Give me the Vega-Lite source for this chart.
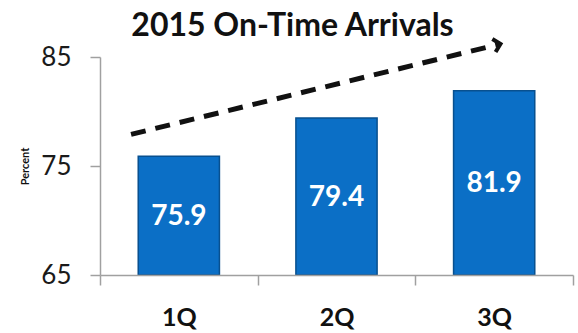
{
  "$schema": "https://vega.github.io/schema/vega-lite/v6.json",
  "autosize": "none",
  "width": 473,
  "height": 218,
  "padding": {"left": 100, "top": 57, "right": 5, "bottom": 58},
  "background": "white",
  "config": {
    "font": "Lato",
    "view": {"stroke": null}
  },
  "title": {
    "text": "2015 On-Time Arrivals",
    "font": "Lato",
    "fontSize": 32,
    "fontWeight": "bold",
    "color": "#111111",
    "anchor": "middle",
    "frame": "group",
    "dx": -44,
    "dy": 12,
    "offset": 0
  },
  "datasets": {
    "quarters": [
      {"quarter": "1Q", "pct": 75.9},
      {"quarter": "2Q", "pct": 79.4},
      {"quarter": "3Q", "pct": 81.9}
    ],
    "trend": [
      {"pos": 0.197, "pct": 77.9},
      {"pos": 2.54, "pct": 86.2}
    ]
  },
  "resolve": {"scale": {"x": "independent"}},
  "layer": [
    {
      "data": {"name": "quarters"},
      "layer": [
        {
          "mark": {
            "type": "bar",
            "width": {"band": 0.515},
            "fill": "#0b6fc6",
            "stroke": "#08508f",
            "strokeWidth": 1.5
          },
          "encoding": {
            "x": {
              "field": "quarter",
              "type": "nominal",
              "sort": null,
              "scale": {"paddingInner": 0, "paddingOuter": 0},
              "axis": {
                "title": null,
                "labelAngle": 0,
                "labelFont": "Lato",
                "labelFontSize": 25,
                "labelFontWeight": "bold",
                "labelColor": "#111111",
                "labelPadding": 20,
                "tickBand": "extent",
                "tickSize": 10,
                "tickColor": "#a0a0a0",
                "domainColor": "#a0a0a0",
                "tickWidth": 1.5,
                "domainWidth": 1.5,
                "zindex": 1
              }
            },
            "y": {
              "field": "pct",
              "type": "quantitative",
              "scale": {"domain": [65, 85], "nice": false, "zero": false},
              "axis": {
                "title": "Percent",
                "titleFont": "Lato",
                "titleFontSize": 11,
                "titleFontWeight": "bold",
                "titleColor": "#111111",
                "titlePadding": 10,
                "values": [65, 75, 85],
                "grid": false,
                "labelFont": "Lato",
                "labelFontSize": 26,
                "labelColor": "#1a1a1a",
                "labelPadding": 19,
                "tickSize": 10,
                "tickColor": "#a0a0a0",
                "domainColor": "#a0a0a0",
                "tickWidth": 1.5,
                "domainWidth": 1.5
              }
            },
            "y2": {"datum": 65}
          }
        },
        {
          "transform": [{"calculate": "(datum.pct + 65) / 2", "as": "mid"}],
          "mark": {
            "type": "text",
            "font": "Lato",
            "fontSize": 28,
            "fontWeight": "bold",
            "color": "white",
            "baseline": "middle",
            "align": "center",
            "dy": 1
          },
          "encoding": {
            "x": {"field": "quarter", "type": "nominal", "sort": null},
            "y": {"field": "mid", "type": "quantitative"},
            "text": {"field": "pct", "type": "quantitative", "format": ".1f"}
          }
        }
      ]
    },
    {
      "data": {"name": "trend"},
      "layer": [
        {
          "mark": {
            "type": "line",
            "color": "#111111",
            "strokeWidth": 5,
            "strokeDash": [15, 10],
            "strokeCap": "butt"
          },
          "encoding": {
            "x": {
              "field": "pos",
              "type": "quantitative",
              "scale": {"domain": [0, 3], "nice": false, "zero": false},
              "axis": null
            },
            "y": {"field": "pct", "type": "quantitative"}
          }
        },
        {
          "transform": [{"filter": "datum.pos > 1"}],
          "mark": {
            "type": "point",
            "shape": "M-1,-1L0,0L-1,1",
            "filled": false,
            "stroke": "#111111",
            "strokeWidth": 4,
            "size": 180,
            "angle": 346,
            "strokeCap": "butt",
            "strokeJoin": "miter",
            "opacity": 1
          },
          "encoding": {
            "x": {"field": "pos", "type": "quantitative"},
            "y": {"field": "pct", "type": "quantitative"}
          }
        }
      ]
    }
  ]
}
